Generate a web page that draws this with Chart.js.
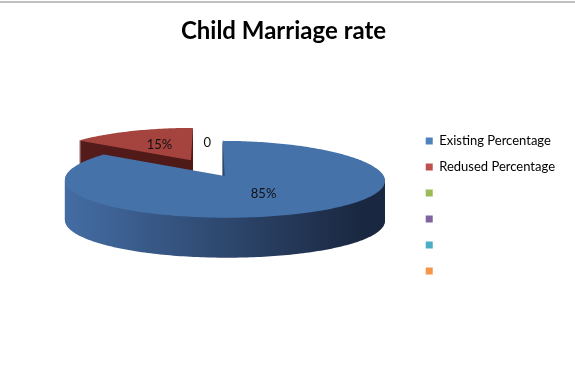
<!DOCTYPE html>
<html><head><meta charset="utf-8">
<script src="https://cdn.jsdelivr.net/npm/chart.js@4/dist/chart.umd.min.js"></script>
<style>
html,body{margin:0;padding:0;background:#fff;}
#wrap{position:relative;width:575px;height:365px;overflow:hidden;}
#topline{position:absolute;left:0;top:1px;width:575px;height:2px;background:#c0c0c0;}
canvas{position:absolute;left:0;top:0;}
</style></head><body>
<div id="wrap"><canvas id="c" width="575" height="365"></canvas><div id="topline"></div></div>
<script>
// ---- data ----
const categories = ['Existing Percentage', 'Redused Percentage', '', '', '', ''];
const values = [85, 15, 0, null, null, null];
const chartTitle = 'Child Marriage rate';

// ---- styles ----
const legendColors = ['#4F81BD', '#C0504D', '#9BBB59', '#8064A2', '#4BACC6', '#F79646'];
const topColors    = ['#4672AA', '#A5433F', '#8CA84F', '#735A92', '#439AB2', '#DE8639'];
const sideLeft     = ['#4670A8', '#551C1A', '#6F8A3A', '#5A4575', '#357C90', '#B56A28'];
const sideRight    = ['#1A2740', '#451614', '#3E4E20', '#33274A', '#1E4756', '#6E3F16'];
const PIE = { rx: 155, ry: 37, depth: 40, explode: 0.24, px: 0.12, py: 0.09, lift: 38, labelFrac: 0.5 };
const FONT = 'Lato, "Open Sans", "DejaVu Sans", sans-serif';

const pie3d = {
  id: 'pie3d',
  beforeDatasetsDraw(chart) {
    const arcs = chart.getDatasetMeta(0).data;
    if (!arcs.length) return false;
    const ctx = chart.ctx;
    const O = { x: arcs[0].x, y: arcs[0].y - PIE.lift };
    const proj = (u, v) => [O.x + PIE.rx * u * (1 + PIE.px * v), O.y + PIE.ry * v * (1 + PIE.py * v)];
    const slices = arcs.map((a, i) => {
      const start = a.startAngle, end = a.endAngle, mid = (start + end) / 2;
      const cu = PIE.explode * Math.cos(mid), cv = PIE.explode * Math.sin(mid);
      const pts = [[cu, cv]];
      const n = Math.max(2, Math.ceil((end - start) / 0.02));
      for (let k = 0; k <= n; k++) {
        const t = start + (end - start) * k / n;
        pts.push([cu + Math.cos(t), cv + Math.sin(t)]);
      }
      return { i, mid, cu, cv, empty: !(end - start > 0), pts: pts.map(p => proj(p[0], p[1])) };
    });
    const order = slices.filter(s => !s.empty).sort((a, b) => a.cv - b.cv);
    const path = (pts, dy) => {
      ctx.beginPath();
      pts.forEach((p, k) => k ? ctx.lineTo(p[0], p[1] + dy) : ctx.moveTo(p[0], p[1] + dy));
      ctx.closePath();
    };
    ctx.save();
    const fills = order.map(s => {
      const g = ctx.createLinearGradient(O.x - PIE.rx, 0, O.x + PIE.rx, 0);
      g.addColorStop(0, sideLeft[s.i]);
      g.addColorStop(1, sideRight[s.i]);
      return g;
    });
    for (let dy = PIE.depth; dy >= 1; dy--) {
      order.forEach((s, k) => { ctx.fillStyle = fills[k]; path(s.pts, dy); ctx.fill(); });
    }
    order.forEach(s => { ctx.fillStyle = topColors[s.i]; path(s.pts, 0); ctx.fill(); });
    // data labels
    ctx.fillStyle = '#111';
    ctx.font = '13px ' + FONT;
    ctx.textAlign = 'center';
    ctx.textBaseline = 'middle';
    slices.forEach(s => {
      const v = values[s.i];
      if (v === null || v === undefined) return;
      const p = proj(s.cu + PIE.labelFrac * Math.cos(s.mid), s.cv + PIE.labelFrac * Math.sin(s.mid));
      ctx.fillText(v === 0 ? '0' : v + '%', p[0], p[1]);
    });
    ctx.restore();
    return false;
  }
};

new Chart(document.getElementById('c'), {
  type: 'pie',
  data: {
    labels: categories,
    datasets: [{ data: values, backgroundColor: legendColors, borderWidth: 0 }]
  },
  options: {
    responsive: false,
    animation: false,
    devicePixelRatio: 1,
    layout: { padding: { left: 2, right: 10, top: 0, bottom: 19 } },
    plugins: {
      title: {
        display: true, text: chartTitle, color: '#000',
        font: { family: FONT, size: 24, weight: 'bold' },
        padding: { top: 17, bottom: 20 }
      },
      legend: {
        position: 'right', align: 'center', fullSize: false,
        labels: {
          boxWidth: 7, boxHeight: 7, padding: 13, color: '#000',
          font: { family: FONT, size: 13 }
        }
      },
      tooltip: { enabled: false }
    }
  },
  plugins: [pie3d]
});
</script>
</body></html>
